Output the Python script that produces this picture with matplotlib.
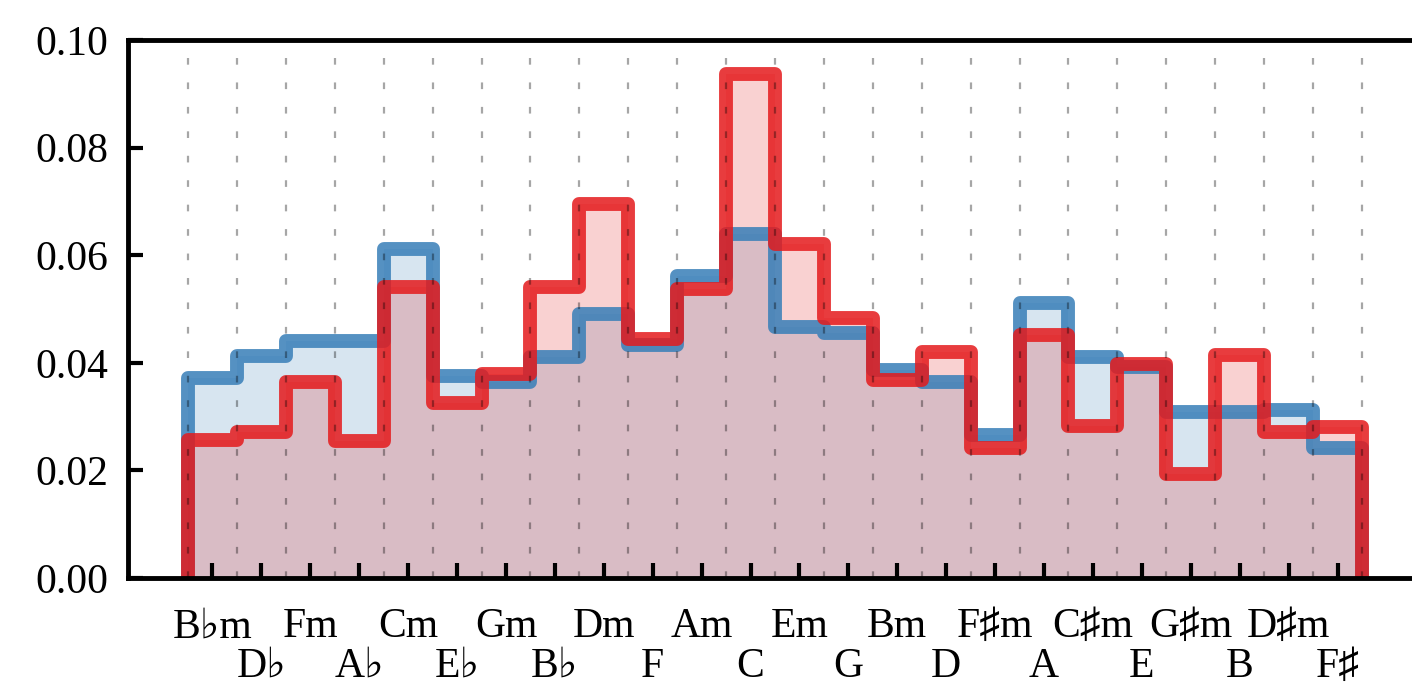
import numpy as np
import matplotlib
matplotlib.use("Agg")
import matplotlib.pyplot as plt

# keys around the circle of fifths, minor / major alternating
keys = ["B♭m", "D♭", "Fm", "A♭", "Cm", "E♭", "Gm", "B♭", "Dm", "F", "Am", "C",
        "Em", "G", "Bm", "D", "F♯m", "A", "C♯m", "E", "G♯m", "B", "D♯m", "F♯"]

blue_vals = [0.0371, 0.0412, 0.0440, 0.0440, 0.0612, 0.0376, 0.0365, 0.0410,
             0.0490, 0.0433, 0.0562, 0.0640, 0.0467, 0.0455, 0.0386, 0.0364,
             0.0265, 0.0512, 0.0411, 0.0392, 0.0309, 0.0309, 0.0312, 0.0242]
red_vals = [0.0256, 0.0271, 0.0364, 0.0255, 0.0541, 0.0326, 0.0380, 0.0540,
            0.0695, 0.0444, 0.0538, 0.0937, 0.0620, 0.0483, 0.0368, 0.0421,
            0.0242, 0.0452, 0.0283, 0.0398, 0.0193, 0.0414, 0.0271, 0.0280]

BLUE = "#377eb8"
RED = "#e41a1c"

plt.rcParams["font.family"] = ["Liberation Serif", "DejaVu Serif", "DejaVu Sans"]
plt.rcParams["font.size"] = 30

fig = plt.figure(figsize=(14.12, 6.89), dpi=100)
ax = fig.add_axes([128 / 1412, 111 / 689, 1294 / 1412, 538 / 689])

n = len(keys)
pos = np.arange(n)
edges = np.arange(n + 1) - 0.5

# fills first, then the thick outlines
ax.stairs(blue_vals, edges, fill=True, color=BLUE, alpha=0.2, linewidth=0)
ax.stairs(red_vals, edges, fill=True, color=RED, alpha=0.2, linewidth=0)
ax.stairs(blue_vals, edges, baseline=0, color=BLUE, alpha=0.85, linewidth=10,
          joinstyle="round")
ax.stairs(red_vals, edges, baseline=0, color=RED, alpha=0.85, linewidth=10,
          joinstyle="round")

# dotted guides at the bin edges
for e in edges:
    ax.axvline(e, color="k", alpha=0.35, linewidth=1.6, linestyle=(0, (3, 8)),
               zorder=3)

ax.set_xlim(-0.5 - 60 / 48.9, n - 0.5 + 60 / 48.9)
ax.set_ylim(0, 0.10)

yt = np.arange(0, 0.101, 0.02)
ax.set_yticks(yt)
ax.set_yticklabels([f"{v:.2f}" for v in yt])

# minor keys on the first row, major keys on the second row
ax.set_xticks(pos[0::2])
ax.set_xticklabels(keys[0::2])
ax.set_xticks(pos[1::2], minor=True)
ax.set_xticklabels(keys[1::2], minor=True)

ax.tick_params(axis="y", which="major", direction="in", length=11, width=3,
               pad=14, right=False)
ax.tick_params(axis="x", which="major", direction="in", length=11, width=3,
               pad=21.5, top=False)
ax.tick_params(axis="x", which="minor", direction="in", length=11, width=3,
               pad=50, top=False)

for side in ["left", "top", "bottom"]:
    ax.spines[side].set_linewidth(3.5)
ax.spines["right"].set_visible(False)

fig.savefig("out.png", dpi=100)
